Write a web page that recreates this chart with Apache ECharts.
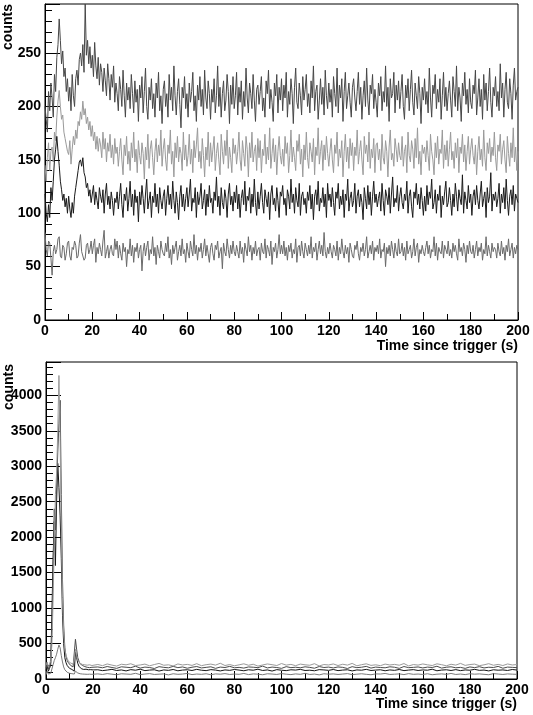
<!DOCTYPE html>
<html><head><meta charset="utf-8">
<script src="https://cdn.jsdelivr.net/npm/echarts@6/dist/echarts.min.js"></script>
<style>html,body{margin:0;padding:0;background:#fff}#c{width:533px;height:715px}</style>
</head><body><div id="c"></div><script>
// ---------- TOP PANEL (0.5 s bins, t = 0..200) ----------
const topA = [200,188,176,214,196,222,208,190,230,214,246,258,282,262,240,252,228,236,214,226,
205,218,196,230,210,200,226,234,220,244,250,238,258,232,296,248,262,240,256,236,
248,228,260,238,226,246,220,240,232,214,236,224,210,240,226,206,230,218,238,204,
222,
212,196,228,216,200,234,210,190,222,206,218,198,230,212,194,224,204,216,186,220,
208,228,194,214,236,200,188,218,206,226,198,212,190,222,208,232,196,210,184,216,
224,200,212,190,230,206,218,196,238,210,192,214,226,202,180,218,208,228,198,212,
190,222,204,214,232,196,210,186,220,206,228,200,216,192,234,208,198,224,212,188,
216,204,226,194,210,238,200,218,190,212,224,196,206,230,214,184,220,202,228,198,
210,232,192,218,204,224,188,214,200,236,208,194,222,212,198,230,206,186,216,220,
202,214,228,196,208,190,224,212,234,198,216,204,186,222,210,230,194,218,206,226,
196,220,208,232,190,214,202,226,212,184,218,236,204,198,222,210,192,228,206,216,
230,200,212,194,224,208,238,196,214,220,188,206,226,202,218,192,234,210,198,222,
204,216,190,228,212,200,236,194,220,208,226,186,214,232,198,210,222,204,190,218,
226,208,196,214,232,202,218,188,210,224,200,236,206,192,220,212,230,198,216,204,
190,222,210,228,196,214,204,238,200,218,186,226,208,212,232,194,220,206,224,198,
214,230,200,188,220,208,226,196,216,234,204,192,222,210,198,228,212,184,218,206,
226,202,214,194,236,208,190,220,212,230,198,216,204,226,188,210,232,200,218,196,
212,224,206,190,228,214,200,238,196,218,208,186,222,210,232,202,216,194,226,204,
198,220,212,234,192,208,226,200,216,188,230,206,222,196,214,236,204,190,218,210,
228,200,214,196,240,208,222,190,216,232,204,198,226,212,188,220,236,206,214,218];
const topB = [145,130,152,166,140,158,162,148,176,168,190,205,215,200,188,192,176,170,164,158,
155,168,146,160,172,164,178,170,186,182,195,188,205,192,198,184,190,178,186,172,
182,168,176,160,172,158,170,164,152,176,160,170,148,166,158,174,152,164,146,170,
156,
162,144,158,170,150,136,164,154,172,146,158,140,166,152,176,148,160,138,168,154,
146,166,156,132,162,150,174,142,160,168,152,136,158,170,148,164,154,178,144,160,
170,150,140,164,156,178,146,158,134,166,152,172,148,162,156,140,176,150,164,144,
154,174,146,160,138,168,152,164,180,148,158,142,170,154,134,162,150,176,144,166,
148,160,172,140,156,166,150,136,174,158,146,168,154,178,142,162,152,138,170,156,
164,146,158,176,150,140,168,156,144,172,160,134,166,152,176,148,158,164,140,170,
152,168,138,160,154,174,146,162,150,180,142,156,170,148,164,136,158,172,154,146,
160,144,172,156,166,138,154,178,148,162,152,140,168,158,174,146,160,134,164,150,
176,152,142,166,158,148,170,136,162,154,180,146,158,168,140,164,150,172,156,144,
158,170,150,138,164,156,176,144,160,152,168,134,158,174,148,162,142,170,154,166,
140,162,154,178,146,158,168,150,136,172,156,164,148,176,142,160,152,170,138,164,
166,150,160,140,174,152,146,168,158,134,162,178,150,156,144,170,160,148,166,154,
150,172,144,158,164,138,176,154,148,168,160,142,170,152,180,146,158,136,164,156,
162,148,168,154,140,174,158,150,136,166,152,172,146,160,156,178,142,164,150,168,
144,160,176,150,158,142,166,152,170,138,162,156,174,148,164,140,158,172,146,160,
170,154,146,164,136,158,172,150,160,144,178,152,140,166,156,170,148,162,154,176,
152,140,164,158,174,146,160,168,150,138,172,156,144,166,152,180,148,162,140,158];
const topC = [118,100,92,108,96,124,112,130,150,160,172,158,145,130,122,112,118,106,114,100,
116,104,96,110,100,116,124,132,140,148,150,144,152,138,134,124,128,116,122,110,
118,126,108,120,112,104,124,116,110,122,100,118,128,108,116,104,120,112,98,114,
110,
120,104,116,128,108,96,118,112,124,102,114,130,106,118,98,122,110,116,92,120,
108,126,114,100,118,132,104,112,120,96,116,110,128,106,118,100,124,112,104,116,
122,98,114,126,108,118,104,130,112,100,120,110,94,116,126,106,118,102,114,124,
106,118,132,102,114,110,124,96,120,108,116,128,104,112,122,98,118,106,126,110,
114,100,120,112,134,106,116,98,124,110,104,122,114,96,118,128,108,116,102,120,
110,126,104,118,96,114,122,108,130,102,116,112,124,100,118,106,132,110,98,120,
104,116,128,110,100,122,114,106,120,94,118,126,108,114,102,124,112,96,120,116,
126,108,114,98,122,116,104,132,110,118,100,124,112,106,128,98,116,120,108,114,
100,120,112,126,104,118,94,116,122,108,130,102,114,110,124,106,118,96,128,112,
118,106,124,110,98,120,114,128,104,116,108,122,96,118,112,132,102,114,120,106,
112,128,100,116,122,106,118,110,94,124,114,104,126,108,120,98,116,130,110,118,
106,114,120,102,128,112,98,122,116,108,124,100,118,134,106,114,110,126,102,116,
124,110,104,118,112,130,100,116,122,106,96,120,114,128,108,118,104,124,112,98,
116,102,126,108,120,114,132,104,110,122,100,118,112,126,96,116,108,120,130,106,
110,124,112,98,118,106,128,116,102,122,114,108,136,100,120,112,104,126,110,118,
98,116,122,108,126,112,104,118,130,106,114,120,96,124,110,116,138,102,118,112,
120,106,114,128,100,118,110,124,104,132,112,98,116,122,108,126,102,118,114,110];
const topD = [82,66,60,74,72,58,42,64,70,62,66,76,78,60,58,70,68,56,62,72,
74,60,56,68,66,74,70,58,60,72,80,64,64,56,58,70,72,62,66,74,
62,70,76,54,68,62,72,66,60,74,84,58,64,70,58,66,70,62,60,76,
66,
74,58,70,62,56,72,64,68,50,66,62,76,60,70,54,68,64,72,58,66,
70,46,64,72,60,68,74,56,66,62,78,60,68,52,70,64,58,74,66,62,
60,72,64,78,58,66,52,70,62,68,74,56,64,70,60,76,62,66,54,72,
64,58,74,66,60,80,62,70,56,68,64,72,58,66,76,60,70,62,54,68,
72,62,56,70,66,74,58,64,68,48,72,64,60,76,66,58,70,62,74,64,
60,70,64,58,74,62,68,54,72,66,60,78,64,70,56,68,62,74,60,66,
68,56,72,64,62,76,58,70,66,60,74,52,68,64,72,58,66,80,62,70,
62,74,60,68,56,70,64,72,58,66,62,76,54,68,70,60,74,64,58,72,
66,60,70,62,78,58,68,64,72,56,66,74,62,70,60,82,64,58,68,62,
72,64,58,70,66,60,74,56,68,62,76,64,58,70,62,68,54,72,66,60,
58,70,66,74,62,56,68,64,72,60,66,78,58,64,70,62,74,56,68,64,
70,62,76,58,66,64,72,50,68,62,70,60,74,66,58,72,64,60,76,62,
64,72,60,68,56,74,62,66,70,58,64,76,60,68,72,54,66,62,70,64,
60,68,74,62,70,58,66,64,78,60,72,56,68,64,62,74,58,70,66,62,
74,60,66,58,72,64,70,62,56,76,64,68,60,72,66,54,70,62,74,64,
62,70,58,66,74,60,68,64,72,56,66,62,78,60,70,64,58,72,64,68,
66,58,72,64,60,74,62,68,56,70,64,76,60,66,72,58,68,62,70,66];

// ---------- BOTTOM PANEL ----------
const botTimes = [0,0.5,1,1.5,2,2.5,3,3.5,4,4.5,5,5.5,6,6.5,7,7.5,8,8.5,9,9.5,
10,10.5,11,11.5,12,12.5,13,13.5,14,14.5,15,15.5,16,16.5,17,17.5,18,18.5,19,19.5,20,
22,24,26,28,30,32,34,36,38,40,42,44,46,48,50,52,54,56,58,60,
62,64,66,68,70,72,74,76,78,80,82,84,86,88,90,92,94,96,98,100,
102,104,106,108,110,112,114,116,118,120,122,124,126,128,130,132,134,136,138,140,
142,144,146,148,150,152,154,156,158,160,162,164,166,168,170,172,174,176,178,180,
182,184,186,188,190,192,194,196,198,200];
const botP1 = [190,240,170,210,260,480,1100,1900,2600,2900,3500,4280,3380,2100,1150,650,420,330,290,250,
240,225,230,210,280,420,330,260,240,220,230,205,215,200,225,195,210,200,215,190,205,
205,188,212,196,182,208,200,215,190,198,
210,186,204,220,194,200,184,212,198,206,
192,216,188,202,210,196,222,190,204,186,
200,214,194,208,182,198,212,202,190,218,
196,206,188,210,200,194,216,184,204,198,
212,190,208,196,220,186,202,214,192,200,
188,210,198,206,194,218,184,204,196,212,
200,190,214,202,186,208,196,220,192,204,
210,188,200,216,194,206,190,212,198,204];
const botP2 = [150,210,140,180,230,700,1500,2400,2100,2700,3200,3600,3930,2600,1400,760,440,320,260,230,
205,190,185,170,150,560,420,300,250,215,200,190,180,175,185,165,170,160,175,165,170,
170,158,176,162,150,172,166,160,180,154,
168,162,148,174,164,158,178,160,170,152,
166,176,156,164,172,150,168,162,178,158,
164,154,170,166,160,182,156,168,162,150,
174,160,166,158,172,164,152,176,162,168,
156,170,164,148,174,160,166,178,154,168,
162,158,172,166,150,176,160,164,170,156,
168,162,180,154,166,172,158,164,150,170,
160,174,156,166,162,178,152,168,164,160];
const botP3 = [120,180,110,150,200,900,1700,2220,1600,2500,3040,2700,2300,1700,900,500,300,230,190,165,
150,140,135,120,110,380,300,220,180,155,145,140,135,128,138,125,130,122,132,120,128,
130,118,126,136,120,128,114,132,124,138,
118,126,130,112,128,122,134,116,126,130,
120,136,124,118,132,126,114,128,122,134,
126,116,130,124,138,120,128,112,132,124,
118,130,126,136,120,124,116,132,128,122,
134,118,126,130,114,128,124,136,120,126,
130,116,128,122,134,118,126,132,120,128,
124,138,116,126,130,120,132,118,128,124,
136,122,126,114,130,124,128,120,134,126];
const botP4 = [60,110,70,90,80,140,200,260,300,350,420,480,440,330,240,170,130,105,95,85,
80,78,75,72,70,110,95,85,78,74,72,70,74,68,72,66,70,68,72,66,70,
72,64,76,68,60,74,70,66,80,62,
70,76,64,68,72,58,74,66,70,78,
62,70,66,74,60,72,68,76,64,70,
66,78,62,72,68,60,74,70,64,76,
68,62,72,66,80,64,70,58,74,68,
72,64,70,76,62,68,74,66,60,72,
70,78,64,68,72,62,76,66,70,64,
74,60,68,72,66,78,64,70,62,74,
68,72,66,60,76,70,64,72,68,66];

const yTicksTop = [0,50,100,150,200,250];
const yTicksBot = [0,500,1000,1500,2000,2500,3000,3500,4000];
const xTicks = [0,20,40,60,80,100,120,140,160,180,200];
const topBin = 0.5; // seconds per bin in the top panel

const FONT = 'Liberation Sans';
const chart = echarts.init(document.getElementById('c'), null, {renderer:'canvas'});

function xAx(gi){
  return {type:'value', gridIndex:gi, min:0, max:200, interval:20,
    axisLine:{show:true,onZero:false,lineStyle:{color:'#000',width:1}},
    axisTick:{show:true,inside:true,length:8,lineStyle:{color:'#000'}},
    minorTick:{show:true,splitNumber:2,length:6,lineStyle:{color:'#000'}},
    splitLine:{show:false},
    axisLabel:{color:'#000',fontFamily:FONT,fontWeight:'bold',fontSize:14,margin:4,
      formatter:v=>xTicks.includes(v)?String(v):''}};
}
function yAx(gi,max,iv,ticks){
  return {type:'value', gridIndex:gi, min:0, max:max, interval:iv,
    axisLine:{show:true,onZero:false,lineStyle:{color:'#000',width:1}},
    axisTick:{show:true,inside:true,length:15,lineStyle:{color:'#000'}},
    minorTick:{show:true,splitNumber:5,length:7,lineStyle:{color:'#000'}},
    splitLine:{show:false},
    axisLabel:{color:'#000',fontFamily:FONT,fontWeight:'bold',fontSize:14,margin:4,showMaxLabel:false,
      formatter:v=>ticks.includes(v)?String(v):''}};
}
function ln(name,gi,data,color){
  return {name, type:'line', xAxisIndex:gi, yAxisIndex:gi, data, symbol:'none',
    showSymbol:false, animation:false, clip:true, lineStyle:{color, width:1}};
}
const topPairs = arr => arr.map((v,i)=>[i*topBin,v]);
const botPairs = arr => arr.map((v,i)=>[botTimes[i],v]);

chart.setOption({
  animation:false,
  backgroundColor:'#fff',
  grid:[
    {left:45, top:4, width:473, height:316, show:true, borderColor:'#000', borderWidth:1, backgroundColor:'transparent'},
    {left:46, top:362, width:471, height:317, show:true, borderColor:'#000', borderWidth:1, backgroundColor:'transparent'}
  ],
  xAxis:[xAx(0), xAx(1)],
  yAxis:[yAx(0,296,50,yTicksTop), yAx(1,4470,500,yTicksBot)],
  series:[
    ln('A',0,topPairs(topA),'#474747'),
    ln('B',0,topPairs(topB),'#9a9a9a'),
    ln('C',0,topPairs(topC),'#1a1a1a'),
    ln('D',0,topPairs(topD),'#6a6a6a'),
    ln('P4',1,botPairs(botP4),'#7a7a7a'),
    ln('P3',1,botPairs(botP3),'#151515'),
    ln('P2',1,botPairs(botP2),'#4a4a4a'),
    ln('P1',1,botPairs(botP1),'#9a9a9a')
  ],
  graphic:[
    {type:'text', x:8, y:27, rotation:Math.PI/2, style:{text:'counts', fontFamily:FONT, fontWeight:'bold', fontSize:14, fill:'#000', align:'center', verticalAlign:'middle'}},
    {type:'text', x:9, y:387, rotation:Math.PI/2, style:{text:'counts', fontFamily:FONT, fontWeight:'bold', fontSize:14, fill:'#000', align:'center', verticalAlign:'middle'}},
    {type:'text', x:518, y:346, style:{text:'Time since trigger (s)', fontFamily:FONT, fontWeight:'bold', fontSize:14, fill:'#000', align:'right', verticalAlign:'middle'}},
    {type:'text', x:517, y:704, style:{text:'Time since trigger (s)', fontFamily:FONT, fontWeight:'bold', fontSize:14, fill:'#000', align:'right', verticalAlign:'middle'}}
  ]
});
</script></body></html>
